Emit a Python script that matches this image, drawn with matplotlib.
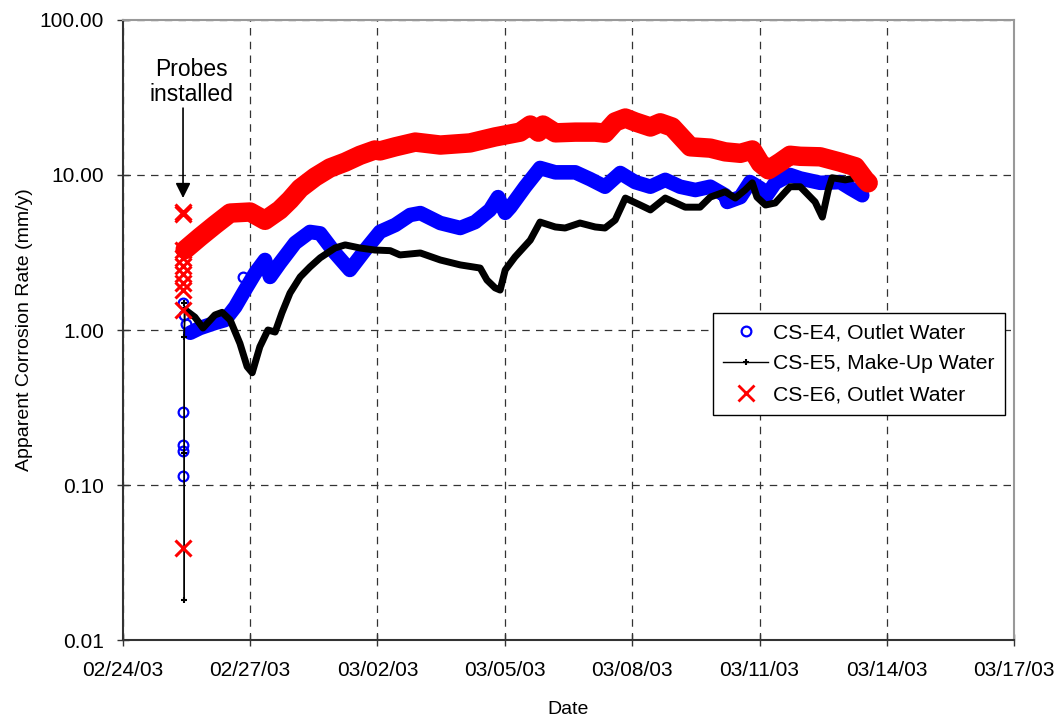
import matplotlib
matplotlib.use("Agg")
import matplotlib.pyplot as plt
import matplotlib.dates as mdates
from matplotlib.lines import Line2D
from matplotlib.ticker import FixedLocator, FuncFormatter
import numpy as np
import pandas as pd

plt.rcParams['font.family'] = ['Liberation Sans', 'DejaVu Sans']

# Startdatum, alla tider ar dagar efter detta
t0 = pd.Timestamp("2003-02-24")

# CS-E4, Outlet Water (bla)
e4_days = [1.59, 1.82, 2.17, 2.41, 2.65, 2.88, 3.12, 3.35, 3.47, 3.70, 4.06, 4.41, 4.65,
           5.00, 5.35, 5.71, 6.06, 6.42, 6.77, 7.01, 7.48, 7.95, 8.30, 8.65, 8.84, 9.01,
           9.13, 9.48, 9.83, 10.19, 10.66, 11.01, 11.36, 11.72, 12.07, 12.43, 12.78, 13.13,
           13.49, 13.84, 14.19, 14.24, 14.55, 14.78, 15.02, 15.14, 15.37, 15.72, 15.96,
           16.43, 16.90, 17.14, 17.42]
e4_vals = [0.96, 1.03, 1.11, 1.16, 1.41, 1.81, 2.33, 2.83, 2.2, 2.7, 3.64, 4.29, 4.2,
           3.14, 2.44, 3.28, 4.3, 4.76, 5.52, 5.68, 4.9, 4.55, 4.97, 5.95, 7.2, 5.7,
           6.2, 8.4, 11.1, 10.4, 10.4, 9.4, 8.4, 10.3, 9.0, 8.4, 9.3, 8.4,
           8.0, 8.4, 7.4, 6.7, 7.2, 9.0, 8.2, 7.2, 8.9, 10.0, 9.5,
           8.9, 9.0, 8.2, 7.4]
e4_start_days = [1.42, 1.42, 1.41, 1.42, 1.43, 1.45, 1.50, 2.83]
e4_start_vals = [0.114, 0.165, 0.18, 0.296, 1.5, 1.25, 1.1, 2.2]

# CS-E5, Make-Up Water (svart)
e5_start_days = [1.45, 1.45, 1.45, 1.45, 1.47]
e5_start_vals = [1.5, 0.018, 0.16, 0.9, 1.35]
e5_days = [1.47, 1.70, 1.89, 2.17, 2.34, 2.53, 2.76, 2.93, 3.05, 3.23, 3.42, 3.59, 3.75,
           3.94, 4.18, 4.41, 4.65, 5.00, 5.24, 5.59, 5.94, 6.30, 6.53, 7.01, 7.48, 7.95,
           8.42, 8.58, 8.77, 8.89, 9.01, 9.24, 9.60, 9.83, 10.19, 10.42, 10.77, 11.13,
           11.36, 11.60, 11.84, 12.19, 12.43, 12.78, 13.25, 13.60, 13.84, 14.19, 14.43,
           14.66, 14.83, 14.94, 15.14, 15.37, 15.72, 15.96, 16.31, 16.48, 16.62, 16.71,
           17.02, 17.37]
e5_vals = [1.35, 1.21, 1.03, 1.25, 1.3, 1.16, 0.82, 0.58, 0.53, 0.78, 1.0, 0.97, 1.29,
           1.73, 2.2, 2.55, 2.92, 3.38, 3.54, 3.38, 3.28, 3.25, 3.05, 3.14, 2.83, 2.63,
           2.51, 2.1, 1.87, 1.81, 2.44, 2.96, 3.8, 4.97, 4.62, 4.55, 4.9, 4.62,
           4.55, 5.12, 7.1, 6.4, 5.95, 7.1, 6.2, 6.2, 7.2, 7.8, 7.1,
           8.0, 8.9, 7.2, 6.4, 6.6, 8.4, 8.4, 6.7, 5.35, 8.0, 9.6,
           9.3, 9.7]

# CS-E6, Outlet Water (rod)
e6_days = [1.47, 1.82, 2.17, 2.53, 3.00, 3.35, 3.70, 3.94, 4.18, 4.53, 4.88, 5.24, 5.59,
           5.94, 6.06, 6.42, 6.89, 7.48, 8.18, 8.77, 9.36, 9.60, 9.79, 9.90, 10.19, 10.66,
           11.13, 11.36, 11.60, 11.84, 12.07, 12.43, 12.66, 12.94, 13.37, 13.84, 14.19,
           14.55, 14.83, 15.02, 15.21, 15.49, 15.72, 15.96, 16.43, 16.90, 17.26, 17.49, 17.56]
e6_vals = [3.3, 3.98, 4.76, 5.68, 5.77, 5.1, 5.95, 6.9, 8.2, 9.7, 11.1, 12.1, 13.4,
           14.5, 14.3, 15.2, 16.3, 15.6, 16.1, 17.6, 18.9, 21.0, 18.9, 21.0, 18.7, 18.9,
           18.9, 18.6, 22.0, 23.3, 22.0, 20.4, 21.7, 20.4, 15.2, 14.9, 14.1,
           13.8, 14.5, 11.9, 10.8, 12.1, 13.4, 13.2, 13.1, 12.1, 11.3, 9.3, 8.9]
e6_start_days = [1.42, 1.41, 1.43, 1.42, 1.41, 1.43, 1.42, 1.42, 1.43, 1.42]
e6_start_vals = [0.039, 1.35, 1.8, 2.0, 2.3, 2.6, 2.9, 3.3, 5.6, 5.8]

# Axlar
xtick_dates = ["2003-02-24", "2003-02-27", "2003-03-02", "2003-03-05",
               "2003-03-08", "2003-03-11", "2003-03-14", "2003-03-17"]
ytick_vals = [0.01, 0.1, 1, 10, 100]


def to_dates(days):
    return [t0 + pd.Timedelta(days=d) for d in days]


fig = plt.figure(figsize=(10.6, 7.21), dpi=100)
ax = fig.add_axes([0.1158, 0.1123, 0.8410, 0.8600])

# Bla serie
ax.plot(to_dates(e4_days), e4_vals, color="#0000ff", lw=10.5, solid_capstyle="round",
        solid_joinstyle="round", zorder=3)
ax.plot(to_dates(e4_start_days), e4_start_vals, ls="none", marker="o", ms=7,
        mfc="none", mec="#0000ff", mew=1.6, zorder=3)

# Svart serie
ax.plot(to_dates(e5_start_days), e5_start_vals, color="black", lw=1, marker="+",
        ms=5, mew=1.5, zorder=4)
ax.plot(to_dates(e5_days), e5_vals, color="black", lw=5, solid_capstyle="round",
        solid_joinstyle="round", zorder=4)

# Rod serie
ax.plot(to_dates(e6_days), e6_vals, color="#ff0000", lw=14, solid_capstyle="round",
        solid_joinstyle="round", zorder=5)
ax.plot(to_dates(e6_start_days), e6_start_vals, ls="none", marker="x", ms=11,
        mec="#ff0000", mew=2.2, zorder=5)

ax.set_yscale("log")
ax.set_ylim(0.01, 100)
ax.set_xlim(pd.Timestamp(xtick_dates[0]), pd.Timestamp(xtick_dates[-1]))

ax.yaxis.set_major_locator(FixedLocator(ytick_vals))
ax.yaxis.set_major_formatter(FuncFormatter(lambda v, p: f"{v:.2f}"))
ax.yaxis.set_minor_locator(FixedLocator([]))
ax.set_xticks([mdates.date2num(pd.Timestamp(d)) for d in xtick_dates])
ax.xaxis.set_major_formatter(mdates.DateFormatter("%m/%d/%y"))

ax.tick_params(axis="both", direction="inout", length=9, width=1, labelsize=15,
               color="#333333")
ax.tick_params(axis="y", pad=9)
ax.tick_params(axis="x", pad=10.5)

ax.grid(True, which="major", color="#333333", ls=(0, (6, 5)), lw=0.9)
ax.set_axisbelow(True)

for side in ["left", "bottom"]:
    ax.spines[side].set_color("#333333")
    ax.spines[side].set_linewidth(1.5)
for side in ["top", "right"]:
    ax.spines[side].set_color("#999999")
    ax.spines[side].set_linewidth(1.5)

ax.set_xlabel("Date", fontsize=14, labelpad=15)
ax.set_ylabel("Apparent Corrosion Rate (mm/y)", fontsize=14, labelpad=5)

# Annotering
ax.text(t0 + pd.Timedelta(days=1.62), 40, "Probes\ninstalled", fontsize=16.5,
        ha="center", va="center", linespacing=1.1)
ax.annotate("", xy=(t0 + pd.Timedelta(days=1.42), 7.1),
            xytext=(t0 + pd.Timedelta(days=1.42), 27),
            arrowprops=dict(arrowstyle="-|>,head_length=0.9,head_width=0.45",
                            color="black", lw=1.2, shrinkA=0, shrinkB=0))

# Legend
handles = [
    Line2D([], [], ls="none", marker="o", ms=7, mfc="none", mec="#0000ff", mew=1.6),
    Line2D([], [], color="black", lw=1, marker="+", ms=5, mew=1.5),
    Line2D([], [], ls="none", marker="x", ms=11, mec="#ff0000", mew=2),
]
labels = ["CS-E4, Outlet Water", "CS-E5, Make-Up Water", "CS-E6, Outlet Water"]
leg = ax.legend(handles, labels, loc="upper left", bbox_to_anchor=(0.662, 0.527),
                fontsize=15.2, frameon=True, fancybox=False, edgecolor="black",
                framealpha=1, borderpad=0.5, labelspacing=0.55, handlelength=2.1,
                handletextpad=0.25, borderaxespad=0)
leg.get_frame().set_linewidth(1)
leg.set_zorder(10)

fig.savefig("out.png", dpi=100)
